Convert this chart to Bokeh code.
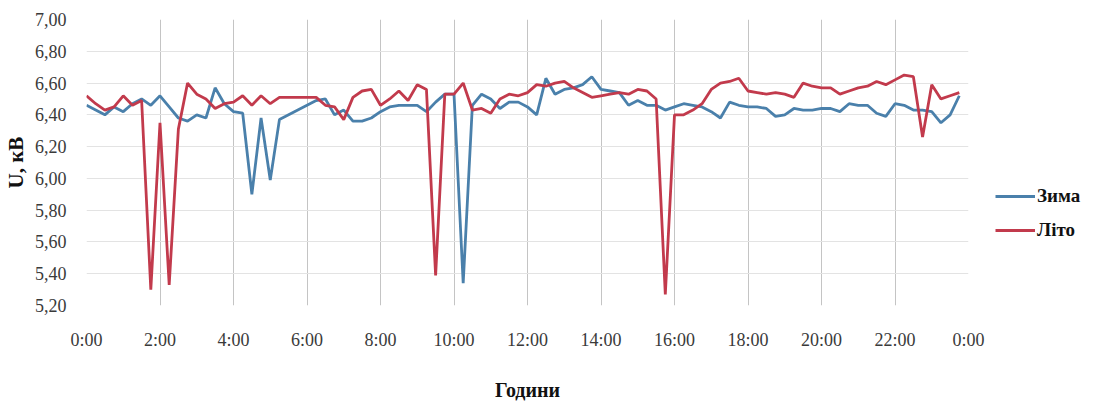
import numpy as np
from bokeh.plotting import figure
from bokeh.models import FixedTicker, Legend, LegendItem, Range1d
from bokeh.embed import file_html
from bokeh.resources import INLINE

# 15-minute readings, 0:00 ... 23:45
zima = [6.46, 6.43, 6.40, 6.45, 6.42, 6.47, 6.50, 6.46, 6.52, 6.45, 6.38, 6.36,
        6.40, 6.38, 6.57, 6.47, 6.42, 6.41, 5.90, 6.38, 5.99, 6.37, 6.40, 6.43,
        6.46, 6.49, 6.50, 6.40, 6.43, 6.36, 6.36, 6.38, 6.42, 6.45, 6.46, 6.46,
        6.46, 6.42, 6.48, 6.53, 6.53, 5.34, 6.46, 6.53, 6.50, 6.44, 6.48, 6.48,
        6.45, 6.40, 6.63, 6.53, 6.56, 6.57, 6.59, 6.64, 6.56, 6.55, 6.54, 6.46,
        6.49, 6.46, 6.46, 6.43, 6.45, 6.47, 6.46, 6.45, 6.42, 6.38, 6.48, 6.46,
        6.45, 6.45, 6.44, 6.39, 6.40, 6.44, 6.43, 6.43, 6.44, 6.44, 6.42, 6.47,
        6.46, 6.46, 6.41, 6.39, 6.47, 6.46, 6.43, 6.43, 6.42, 6.35, 6.40, 6.52]

lito = [6.52, 6.47, 6.43, 6.45, 6.52, 6.46, 6.49, 5.30, 6.35, 5.33, 6.31, 6.60,
        6.53, 6.50, 6.44, 6.47, 6.48, 6.52, 6.46, 6.52, 6.47, 6.51, 6.51, 6.51,
        6.51, 6.51, 6.46, 6.45, 6.37, 6.51, 6.55, 6.56, 6.46, 6.50, 6.55, 6.49,
        6.59, 6.56, 5.39, 6.53, 6.53, 6.60, 6.43, 6.44, 6.41, 6.50, 6.53, 6.52,
        6.54, 6.59, 6.58, 6.60, 6.61, 6.57, 6.54, 6.51, 6.52, 6.53, 6.54, 6.53,
        6.56, 6.55, 6.50, 5.27, 6.40, 6.40, 6.43, 6.47, 6.56, 6.60, 6.61, 6.63,
        6.55, 6.54, 6.53, 6.54, 6.53, 6.51, 6.60, 6.58, 6.57, 6.57, 6.53, 6.55,
        6.57, 6.58, 6.61, 6.59, 6.62, 6.65, 6.64, 6.26, 6.59, 6.50, 6.52, 6.54]

hours = [i * 0.25 for i in range(len(zima))]

x_ticks = [0, 2, 4, 6, 8, 10, 12, 14, 16, 18, 20, 22, 24]
x_labels = ["0:00", "2:00", "4:00", "6:00", "8:00", "10:00", "12:00",
            "14:00", "16:00", "18:00", "20:00", "22:00", "0:00"]
y_ticks = [5.2, 5.4, 5.6, 5.8, 6.0, 6.2, 6.4, 6.6, 6.8, 7.0]
y_labels = ["5,20", "5,40", "5,60", "5,80", "6,00", "6,20", "6,40",
            "6,60", "6,80", "7,00"]

FONT = "Liberation Serif"

p = figure(frame_width=882, frame_height=286, output_backend="svg",
           toolbar_location=None, x_range=Range1d(0, 24), y_range=Range1d(5.2, 7.0),
           min_border_left=80, min_border_top=19, min_border_right=0,
           min_border_bottom=0)
p.outline_line_color = None
p.background_fill_color = "white"
p.border_fill_color = "white"

r1 = p.line(hours, zima, line_color="#4a80ab", line_width=2.8)
r2 = p.line(hours, lito, line_color="#c23a4c", line_width=2.8)

p.xaxis.ticker = FixedTicker(ticks=x_ticks)
p.xaxis.major_label_overrides = {t: l for t, l in zip(x_ticks, x_labels)}
p.yaxis.ticker = FixedTicker(ticks=y_ticks)
p.yaxis.major_label_overrides = {t: l for t, l in zip(y_ticks, y_labels)}

for ax in (p.xaxis, p.yaxis):
    ax.axis_line_color = None
    ax.major_tick_line_color = None
    ax.minor_tick_line_color = None
    ax.major_label_text_font = FONT
    ax.major_label_text_font_size = "18px"
    ax.major_label_text_color = "#3a3a3a"
    ax.axis_label_text_font = FONT
    ax.axis_label_text_font_style = "bold"
    ax.axis_label_text_color = "#111111"

p.xaxis.major_label_standoff = 18
p.yaxis.major_label_standoff = 14
p.xaxis.axis_label = "Години"
p.xaxis.axis_label_text_font_size = "20px"
p.xaxis.axis_label_standoff = 26
p.yaxis.axis_label = "U, кВ"
p.yaxis.axis_label_text_font_size = "21px"
p.yaxis.axis_label_standoff = 4

p.xgrid.grid_line_color = "#c4c4c4"
p.xgrid.grid_line_width = 1
p.ygrid.grid_line_color = "#e3e3e3"
p.ygrid.grid_line_width = 1

legend = Legend(items=[LegendItem(label="Зима", renderers=[r1]),
                       LegendItem(label="Літо", renderers=[r2])],
                location=(27, 64), orientation="vertical",
                glyph_width=40, label_standoff=2, spacing=12,
                padding=0, margin=0, border_line_color=None,
                background_fill_alpha=0,
                label_text_font=FONT, label_text_font_style="bold",
                label_text_font_size="19px", label_text_color="#111111")
p.add_layout(legend, "right")

open("out.html", "w").write(file_html(p, INLINE))
